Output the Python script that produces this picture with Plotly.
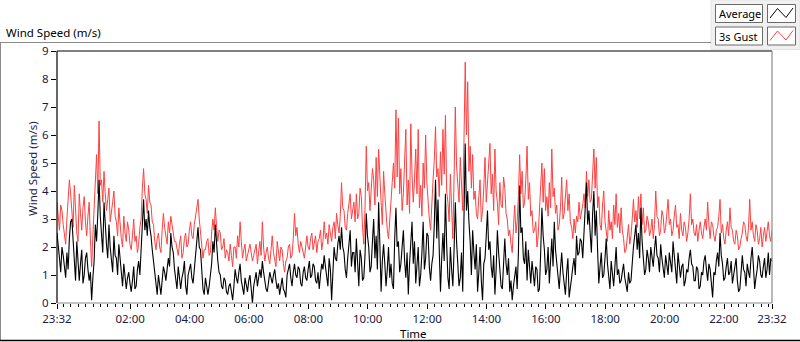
import pandas as pd
import plotly.graph_objects as go

# ---------------- data (2.5-minute samples) ----------------
start_time = "2024-01-01 23:32"
step = "150s"

gust_values = [
    # 23:32 - 01:32
    3.6, 3.0, 2.6, 3.5, 3.3, 2.8, 2.4, 2.1, 3.0, 3.6, 4.4, 3.9, 3.4, 2.7, 4.2, 3.1, 2.5, 2.2, 3.9, 3.2, 2.6, 3.4, 3.8, 2.9,
    2.4, 3.1, 3.6, 2.3, 1.3, 2.4, 3.5, 4.8, 5.3, 3.9, 6.5, 4.2, 4.4, 3.6, 4.7, 3.9, 3.3, 3.7, 4.1, 2.9, 3.2, 3.6, 4.0, 3.1,
    # 01:32 - 03:32
    2.9, 2.4, 3.4, 2.7, 2.3, 2.0, 3.1, 2.5, 2.2, 2.9, 2.6, 2.1, 1.9, 2.4, 3.0, 2.2, 2.4, 1.8, 2.1, 2.7, 3.0, 4.1, 4.8, 3.9,
    3.7, 3.2, 4.2, 3.6, 3.5, 2.9, 2.8, 2.2, 1.9, 2.3, 2.5, 2.0, 1.8, 2.6, 3.2, 2.7, 2.4, 2.1, 2.9, 2.5, 3.1, 2.8, 2.6, 2.2,
    # 03:32 - 05:32
    2.2, 1.9, 1.7, 2.1, 2.4, 1.6, 1.8, 2.3, 2.5, 2.0, 2.1, 2.6, 2.9, 2.4, 2.3, 2.8, 3.1, 3.3, 3.7, 3.0, 2.6, 2.0, 1.6, 1.9,
    1.9, 2.2, 2.3, 1.7, 1.8, 2.5, 3.0, 2.6, 3.4, 2.7, 2.2, 2.6, 2.5, 1.9, 2.0, 2.3, 1.6, 1.9, 1.8, 1.5, 2.1, 1.7, 1.3, 2.0,
    # 05:32 - 07:32
    2.0, 1.6, 2.4, 2.0, 2.9, 2.2, 1.6, 1.9, 2.1, 1.5, 1.7, 2.0, 2.1, 1.8, 1.5, 1.7, 1.9, 2.1, 1.4, 1.8, 2.2, 1.7, 2.9, 2.0,
    1.5, 1.8, 2.0, 1.6, 1.4, 1.9, 2.4, 1.8, 1.6, 1.3, 2.2, 1.7, 1.5, 2.0, 1.9, 1.4, 1.1, 1.5, 1.6, 2.0, 2.1, 1.6, 1.7, 2.3,
    # 07:32 - 09:32
    3.2, 2.4, 2.7, 2.1, 1.8, 2.2, 2.0, 1.7, 1.6, 2.0, 2.4, 2.0, 1.9, 2.3, 2.5, 1.9, 2.1, 2.4, 1.8, 2.2, 2.3, 2.6, 1.9, 2.2,
    2.9, 2.3, 2.5, 2.1, 2.8, 2.4, 2.2, 2.7, 2.9, 2.3, 3.2, 2.8, 2.5, 3.1, 4.3, 3.4, 3.3, 2.7, 2.6, 3.2, 3.6, 3.9, 3.0, 3.4,
    # 09:32 - 11:32
    3.6, 2.9, 3.9, 3.0, 3.2, 4.1, 3.8, 2.7, 2.1, 3.4, 5.6, 4.0, 4.3, 3.3, 3.9, 4.8, 4.4, 3.5, 5.2, 3.8, 5.5, 4.2, 3.6, 2.8,
    4.7, 3.9, 3.2, 2.6, 2.3, 2.9, 3.4, 4.3, 5.0, 4.1, 6.9, 4.5, 6.6, 3.9, 4.8, 3.3, 3.9, 5.1, 6.2, 3.5, 4.4, 3.2, 6.4, 4.6,
    # 11:32 - 13:32
    3.6, 4.4, 5.5, 3.9, 6.2, 3.4, 4.2, 3.1, 5.0, 4.1, 6.0, 4.3, 3.5, 3.0, 2.6, 3.7, 4.4, 5.1, 6.3, 4.5, 4.8, 3.8, 5.4, 4.2,
    6.2, 4.6, 6.7, 4.0, 3.6, 2.9, 4.6, 3.4, 2.3, 4.5, 7.0, 4.9, 4.1, 3.6, 5.2, 4.0, 3.3, 5.8, 8.6, 6.0, 7.9, 4.7, 5.6, 4.1,
    # 13:32 - 15:32
    5.3, 3.7, 4.0, 3.2, 3.0, 3.8, 4.4, 2.9, 3.3, 4.1, 5.2, 3.6, 4.2, 4.8, 5.7, 3.9, 4.6, 3.3, 5.5, 4.0, 3.6, 2.8, 4.3, 3.5,
    3.4, 4.5, 4.1, 3.2, 3.0, 2.4, 2.6, 2.1, 1.8, 2.7, 3.5, 2.5, 2.9, 3.8, 5.3, 3.9, 4.7, 3.4, 3.6, 4.4, 5.6, 3.7, 4.3, 3.1,
    # 15:32 - 17:32
    3.3, 2.5, 2.6, 2.9, 2.0, 2.4, 3.1, 4.2, 5.0, 3.6, 4.8, 3.3, 3.8, 3.1, 4.3, 3.4, 5.5, 3.8, 4.1, 3.2, 3.5, 2.6, 2.8, 3.4,
    4.5, 3.0, 3.2, 3.7, 4.4, 3.3, 3.9, 2.9, 2.7, 2.3, 3.0, 2.5, 3.1, 2.9, 3.6, 3.0, 3.2, 3.5, 3.9, 3.4, 4.7, 3.8, 4.4, 3.6,
    # 17:32 - 19:32
    3.7, 4.6, 5.5, 4.1, 5.2, 3.4, 3.8, 2.8, 2.6, 3.5, 4.0, 2.9, 2.5, 2.2, 3.3, 2.6, 2.9, 2.3, 3.5, 2.8, 3.9, 2.7, 3.2, 2.5,
    3.4, 2.6, 2.3, 1.8, 1.9, 2.4, 2.8, 2.1, 2.4, 3.0, 3.7, 2.9, 3.3, 2.7, 3.8, 3.0, 3.9, 2.8, 3.4, 2.5, 2.6, 3.1, 2.9, 2.4,
    # 19:32 - 21:32
    2.6, 3.0, 2.3, 2.8, 4.0, 3.1, 3.0, 2.4, 2.6, 3.3, 3.1, 2.5, 2.7, 3.2, 3.7, 2.8, 3.0, 2.4, 2.6, 3.1, 3.5, 2.7, 2.8, 2.3,
    3.2, 2.6, 2.4, 2.9, 2.7, 2.2, 2.5, 3.0, 3.9, 2.8, 3.0, 2.5, 2.4, 2.8, 2.2, 2.6, 2.9, 2.5, 2.3, 2.7, 3.0, 2.6, 3.6, 2.8,
    # 21:32 - 23:37
    2.3, 2.9, 2.8, 2.4, 2.2, 2.6, 2.7, 3.1, 3.7, 2.5, 2.8, 2.3, 2.1, 2.6, 2.9, 2.4, 3.4, 2.7, 2.6, 2.2, 2.1, 2.6, 2.4, 1.9,
    2.0, 2.3, 2.5, 2.9, 2.8, 2.4, 2.2, 2.7, 3.7, 2.6, 2.9, 2.4, 2.2, 2.8, 2.6, 2.1, 2.3, 2.7, 2.0, 2.4, 2.7, 2.2, 2.5, 2.9,
    2.4, 2.2, 2.6,
]

average_values = [
    2.5, 1.9, 1.6, 1.1, 2.0, 1.7, 1.3, 0.9, 1.8, 1.2, 2.3, 2.9, 3.0, 2.2, 1.5, 0.8, 2.2, 1.6, 0.8, 1.4, 1.9, 0.7, 1.0, 1.6,
    1.8, 1.2, 0.8, 1.1, 0.1, 0.9, 1.5, 2.8, 2.2, 3.2, 4.4, 3.1, 2.5, 1.8, 3.6, 2.6, 2.1, 1.6, 2.8, 2.0, 1.5, 1.1, 2.4, 1.7,
    1.6, 1.0, 2.1, 1.5, 0.9, 0.6, 1.4, 1.0, 0.5, 0.9, 1.1, 0.7, 0.4, 0.8, 1.3, 0.5, 0.6, 1.2, 1.5, 1.0, 1.9, 2.8, 3.7, 2.6,
    3.0, 2.4, 3.3, 2.7, 2.4, 1.9, 1.5, 0.9, 0.6, 0.3, 1.0, 0.6, 0.3, 0.8, 1.3, 1.1, 0.8, 1.2, 1.6, 1.3, 2.5, 2.0, 1.8, 1.2,
    0.9, 0.5, 1.3, 0.8, 0.5, 0.9, 1.1, 1.5, 0.6, 0.3, 1.0, 1.2, 1.4, 0.9, 0.7, 1.2, 1.6, 2.2, 2.7, 2.0, 1.9, 1.0, 0.5, 0.3,
    0.9, 0.6, 0.3, 0.6, 1.0, 1.4, 2.2, 1.8, 2.8, 2.0, 1.5, 1.1, 1.0, 0.6, 0.5, 0.9, 0.8, 0.4, 0.3, 0.6, 0.7, 0.4, 0.1, 0.6,
    1.2, 0.9, 0.7, 1.1, 1.4, 0.8, 0.5, 0.3, 0.9, 0.6, 0.4, 0.8, 1.0, 0.5, 0.0, 0.6, 0.8, 1.1, 0.6, 0.9, 1.2, 0.9, 1.5, 1.1,
    0.8, 0.5, 0.4, 0.8, 1.1, 0.9, 0.7, 1.0, 1.2, 0.8, 0.5, 0.7, 0.3, 0.6, 0.9, 0.5, 0.4, 0.2, 1.0, 1.2, 1.4, 0.9, 0.6, 1.1,
    1.4, 1.0, 0.9, 1.3, 1.2, 0.7, 0.6, 1.1, 1.3, 0.9, 0.8, 1.2, 1.5, 0.9, 1.0, 1.4, 1.3, 0.8, 0.7, 1.1, 0.5, 1.0, 1.4, 1.2,
    1.7, 1.3, 1.0, 0.6, 1.6, 1.2, 0.1, 1.3, 2.0, 1.6, 1.5, 2.1, 2.4, 1.9, 2.7, 2.0, 1.8, 1.2, 0.9, 1.6, 2.2, 2.6, 1.3, 1.8,
    1.8, 1.1, 2.3, 1.4, 0.6, 1.9, 1.6, 0.8, 0.9, 1.7, 3.2, 2.4, 2.0, 1.1, 1.3, 2.2, 3.0, 1.6, 2.4, 1.2, 3.6, 2.1, 0.4, 1.5,
    2.1, 1.4, 0.6, 1.2, 2.0, 0.9, 1.4, 0.7, 0.5, 2.3, 3.4, 2.0, 2.2, 1.1, 1.4, 2.0, 2.6, 1.5, 0.9, 1.8, 0.3, 1.4, 2.0, 2.9,
    1.4, 2.2, 0.7, 1.5, 2.0, 0.6, 1.0, 1.8, 2.9, 1.2, 1.6, 2.5, 2.4, 1.3, 0.8, 1.4, 1.7, 2.8, 4.4, 2.3, 3.7, 1.9, 0.4, 1.6,
    2.5, 1.5, 3.9, 2.1, 0.9, 0.5, 2.0, 1.2, 0.6, 1.9, 3.6, 2.2, 1.5, 0.6, 0.9, 1.8, 0.4, 2.7, 5.7, 3.3, 4.0, 2.9, 2.2, 1.0,
    2.6, 1.8, 1.2, 2.1, 0.4, 1.1, 2.0, 0.8, 0.1, 1.4, 1.6, 2.4, 3.3, 1.9, 2.2, 1.3, 0.9, 1.7, 0.3, 1.2, 2.6, 1.8, 1.2, 0.6,
    0.5, 1.5, 2.3, 1.4, 1.0, 1.6, 0.4, 0.8, 0.1, 0.6, 0.9, 1.3, 0.5, 1.8, 4.2, 2.5, 2.7, 1.6, 1.4, 2.2, 0.8, 1.9, 1.3, 0.7,
    1.5, 0.9, 0.6, 1.3, 1.2, 0.4, 0.5, 1.8, 3.4, 2.4, 1.9, 1.0, 1.2, 2.0, 0.7, 1.5, 2.3, 1.3, 2.9, 1.9, 1.4, 0.8, 0.5, 1.2,
    1.8, 1.1, 0.6, 0.3, 1.1, 1.6, 0.2, 0.7, 0.9, 1.3, 1.6, 1.0, 2.4, 1.7, 1.8, 2.3, 2.2, 1.6, 2.6, 3.1, 4.3, 2.8, 3.3, 2.5,
    1.8, 3.2, 4.0, 2.4, 3.3, 1.9, 0.7, 1.3, 1.8, 0.9, 1.0, 1.6, 2.3, 1.4, 0.9, 0.5, 1.5, 1.1, 0.6, 1.3, 2.0, 1.0, 1.2, 0.7,
    0.8, 1.1, 1.4, 0.9, 0.6, 0.4, 1.1, 0.7, 0.8, 1.5, 2.0, 2.4, 2.8, 1.9, 2.5, 1.6, 3.4, 2.2, 1.7, 1.0, 1.2, 1.9, 1.6, 1.1,
    2.0, 1.5, 1.3, 1.9, 2.4, 1.7, 1.6, 1.1, 2.1, 1.6, 1.3, 0.9, 1.7, 1.4, 1.0, 1.8, 1.5, 1.1, 2.2, 1.6, 1.2, 0.7, 1.8, 1.2,
    0.9, 1.3, 1.4, 0.6, 0.8, 1.2, 1.1, 1.6, 1.9, 1.4, 1.3, 0.8, 0.8, 1.3, 1.2, 0.5, 0.6, 1.1, 1.0, 1.5, 1.7, 1.2, 0.8, 1.4,
    1.2, 0.7, 0.2, 1.1, 1.0, 1.5, 1.8, 1.3, 2.5, 1.7, 1.4, 0.8, 0.9, 1.3, 1.6, 1.0, 1.1, 1.5, 0.7, 1.0, 1.3, 1.6, 0.8, 0.4,
    0.5, 1.1, 1.7, 1.2, 1.1, 0.6, 1.4, 1.1, 0.9, 1.6, 2.0, 1.3, 0.5, 0.9, 1.2, 1.7, 1.5, 1.0, 0.9, 1.3, 1.6, 0.9, 1.2, 1.8,
    1.0, 1.6, 1.5,
]

tick_times = ["2024-01-01 23:32", "2024-01-02 02:00", "2024-01-02 04:00", "2024-01-02 06:00",
              "2024-01-02 08:00", "2024-01-02 10:00", "2024-01-02 12:00", "2024-01-02 14:00",
              "2024-01-02 16:00", "2024-01-02 18:00", "2024-01-02 20:00", "2024-01-02 22:00",
              "2024-01-02 23:37"]
tick_labels = ["23:32", "02:00", "04:00", "06:00", "08:00", "10:00", "12:00", "14:00",
               "16:00", "18:00", "20:00", "22:00", "23:32"]
y_ticks = list(range(0, 10))
series_names = ["Average", "3s Gust"]

times = pd.date_range(start_time, periods=len(gust_values), freq=step)

# ---------------- layout geometry (pixels) ----------------
W, H = 800, 342
L, R, T, B = 57, 772, 51, 303
PW, PH = R - L, B - T


def px(x):
    return (x - L) / PW


def py(y):
    return (B - y) / PH


FONT = "Noto Sans, Liberation Sans, Arial, sans-serif"
TXT = "#1b1b44"
RED = "#ff4040"

fig = go.Figure()
fig.add_trace(go.Scatter(x=times, y=gust_values, mode="lines", name=series_names[1],
                         line=dict(color=RED, width=1), hoverinfo="skip"))
fig.add_trace(go.Scatter(x=times[:len(average_values)], y=average_values, mode="lines", name=series_names[0],
                         line=dict(color="#000000", width=1.1), hoverinfo="skip"))

fig.update_layout(
    width=W, height=H,
    margin=dict(l=L, r=W - R, t=T, b=H - B, pad=0),
    paper_bgcolor="white", plot_bgcolor="white",
    showlegend=False,
    font=dict(family=FONT, size=11.5, color=TXT),
)
fig.update_xaxes(
    type="date", range=[times[0], times[-1]],
    tickvals=tick_times, ticktext=tick_labels,
    ticks="outside", ticklen=5, tickcolor="#000", tickwidth=1,
    showgrid=False, zeroline=False, showline=False,
    tickfont=dict(family=FONT, size=11.5, color=TXT),
    minor=dict(ticks="outside", ticklen=3, tickcolor="#000", dtick=15 * 60 * 1000,
               tick0="2024-01-01 00:00", showgrid=False),
)
fig.update_yaxes(
    range=[0, 9], tickvals=y_ticks,
    ticks="outside", ticklen=5, tickcolor="#000", tickwidth=1,
    showgrid=False, zeroline=False, showline=False,
    tickfont=dict(family=FONT, size=11.5, color=TXT),
)

shapes = []
# outer frame
shapes.append(dict(type="line", xref="paper", yref="paper", x0=px(0), x1=px(711), y0=py(42.5), y1=py(42.5),
                   line=dict(color="#8a8a8a", width=1)))
shapes.append(dict(type="line", xref="paper", yref="paper", x0=px(0.5), x1=px(0.5), y0=py(42.5), y1=py(341),
                   line=dict(color="#8a8a8a", width=1)))
shapes.append(dict(type="line", xref="paper", yref="paper", x0=px(0), x1=px(800), y0=py(340.5), y1=py(340.5),
                   line=dict(color="#000000", width=1.5)))
# legend panel
shapes.append(dict(type="rect", xref="paper", yref="paper", x0=px(711), x1=px(800), y0=py(0), y1=py(49.5),
                   fillcolor="#f0f0f0", line=dict(color="#e3e3e3", width=1), layer="below"))
# plot frame: top/left dark, right/bottom grey
shapes.append(dict(type="line", xref="paper", yref="paper", x0=0, x1=1, y0=1, y1=1,
                   line=dict(color="#000", width=1.2)))
shapes.append(dict(type="line", xref="paper", yref="paper", x0=0, x1=0, y0=0, y1=1,
                   line=dict(color="#000", width=1.2)))
shapes.append(dict(type="line", xref="paper", yref="paper", x0=1, x1=1, y0=0, y1=1,
                   line=dict(color="#8a8a8a", width=1.2)))
shapes.append(dict(type="line", xref="paper", yref="paper", x0=0, x1=1, y0=0, y1=0,
                   line=dict(color="#8a8a8a", width=1.2)))

annotations = []
legend_colors = ["#000000", RED]
for k, (name, col) in enumerate(zip(series_names, legend_colors)):
    top = 4.5 + 22.5 * k
    bot = top + 18
    shapes.append(dict(type="rect", xref="paper", yref="paper", x0=px(715.5), x1=px(762.5), y0=py(bot), y1=py(top),
                       fillcolor="white", line=dict(color="#6a6a6a", width=1)))
    shapes.append(dict(type="rect", xref="paper", yref="paper", x0=px(767.5), x1=px(795.5), y0=py(bot), y1=py(top),
                       fillcolor="white", line=dict(color="#6a6a6a", width=1)))
    zz = [(770, top + 13.5), (777.5, top + 4), (786, top + 13), (793, top + 3.5)]
    path = "M " + " L ".join(f"{px(a)},{py(b)}" for a, b in zz)
    shapes.append(dict(type="path", xref="paper", yref="paper", path=path, line=dict(color=col, width=1)))
    annotations.append(dict(text=name, xref="paper", yref="paper", x=px(716.5), y=py(top + 9),
                            xanchor="left", yanchor="middle", showarrow=False,
                            font=dict(family=FONT, size=11, color="#000")))

annotations.append(dict(text="Wind Speed (m/s)", xref="paper", yref="paper", x=px(4), y=py(32.5),
                        xanchor="left", yanchor="middle", showarrow=False,
                        font=dict(family=FONT, size=11.5, color="#000")))
annotations.append(dict(text="Wind Speed (m/s)", xref="paper", yref="paper", x=px(32), y=py(168),
                        xanchor="center", yanchor="middle", textangle=-90, showarrow=False,
                        font=dict(family=FONT, size=11.5, color=TXT)))
annotations.append(dict(text="Time", xref="paper", yref="paper", x=px(413), y=py(333),
                        xanchor="center", yanchor="middle", showarrow=False,
                        font=dict(family=FONT, size=11.5, color="#000")))

fig.update_layout(shapes=shapes, annotations=annotations)
fig.write_html("out.html", config={"displayModeBar": False},
               post_script="document.body.style.margin='0px';document.body.style.overflow='hidden';")
